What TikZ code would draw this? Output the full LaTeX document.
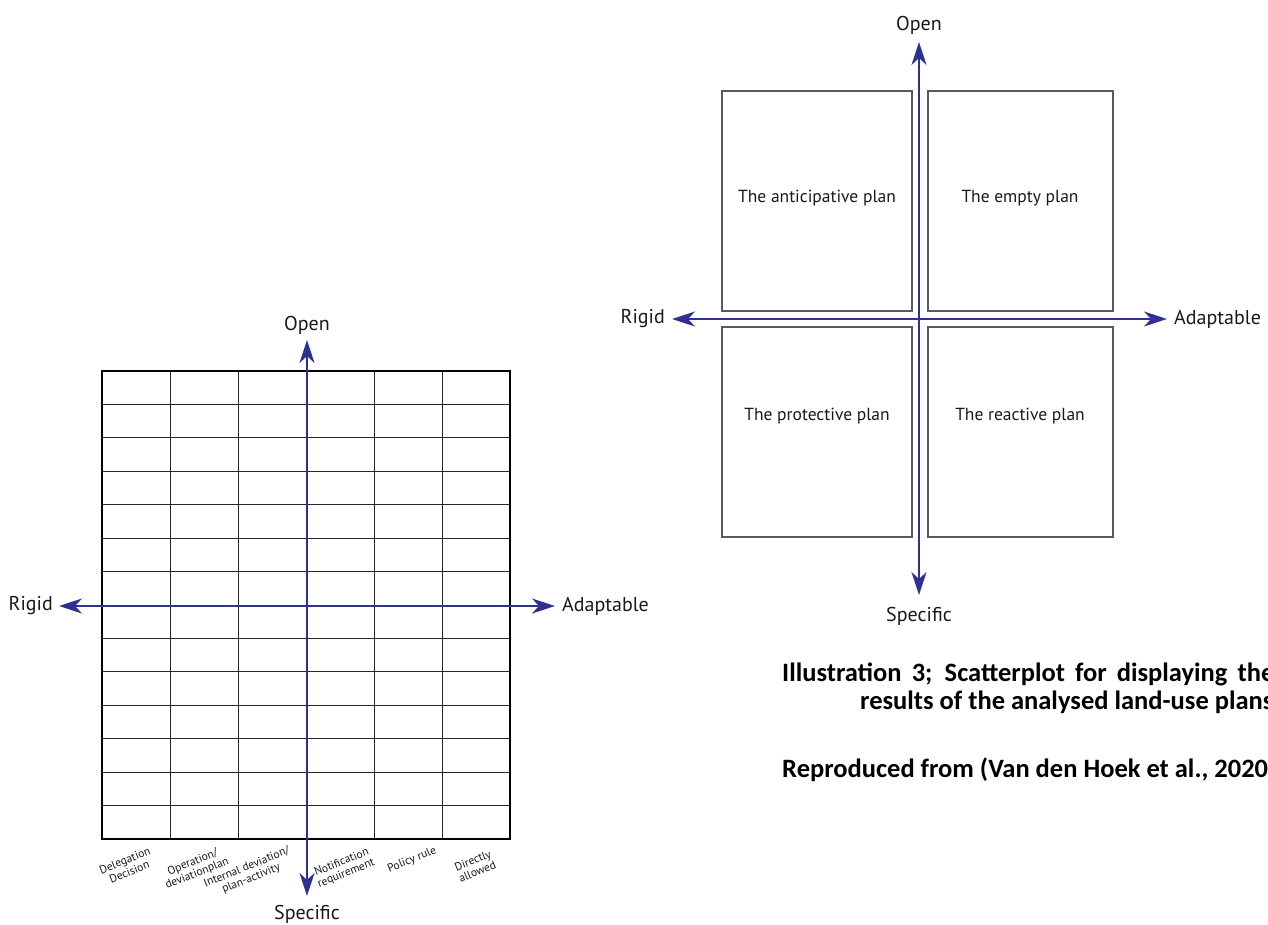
\documentclass[tikz,border=0pt]{standalone}
\usepackage{fontspec}
\setmainfont{PT Sans}
\newfontfamily\capfont{Carlito}
\usepackage{xcolor}
\usetikzlibrary{arrows.meta,positioning}
\definecolor{axisblue}{RGB}{46,49,146}
\definecolor{boxgray}{RGB}{90,90,90}

\begin{document}
\begin{tikzpicture}[
x=1pt, y=-1pt,
cell/.style={draw=black!85, line width=1pt},
frame/.style={draw=black, line width=1.8pt},
axis/.style={draw=axisblue, line width=2.2pt, {Stealth[length=23pt,width=15pt,inset=7pt]}-{Stealth[length=23pt,width=15pt,inset=7pt]}},
axislabel/.style={font=\fontsize{20}{24}\selectfont, text=black!90, inner sep=0pt},
planbox/.style={draw=boxgray, line width=1.3pt, inner sep=0pt},
plantext/.style={font=\fontsize{17.5}{21}\selectfont, text=black!90, inner sep=0pt},
collabel/.style={font=\fontsize{11.5}{12}\selectfont, align=center, rotate=22, inner sep=0pt, text=black!90},
caption/.style={font=\capfont\bfseries\fontsize{26.5}{31}\selectfont, anchor=base west, inner sep=0pt}
]
\useasboundingbox (0,0) rectangle (1268,924);

% left: grid of plan elements
\foreach \c in {0,...,6}
  \draw[cell] ({102+68*\c},371) -- ({102+68*\c},839);
\foreach \r in {0,...,14}
  \draw[cell] (102,{371+468/14*\r}) -- (510,{371+468/14*\r});
\draw[frame] (102,371) rectangle (510,839);

\coordinate (gridleft) at (59,606);
\coordinate (gridright) at (555,606);
\coordinate (gridup) at (307,340);
\coordinate (griddown) at (307,896);
\draw[axis] (gridleft) -- (gridright);
\draw[axis] (gridup) -- (griddown);

\node[axislabel, left=6pt of gridleft] (rigidL) {Rigid};
\node[axislabel, right=7pt of gridright] (adaptL) {Adaptable};
\node[axislabel, above=5pt of gridup] (openL) {Open};
\node[axislabel, below=9pt of griddown] (specificL) {Specific};

\node[collabel] (delegation) at (127,866) {Delegation\\Decision};
\node[collabel] (operation) at (195,868) {Operation/\\deviationplan};
\node[collabel] (internal) at (249,873) {Internal deviation/\\plan-activity};
\node[collabel] (notification) at (344,868) {Notification\\requirement};
\node[collabel] (policy) at (412,860) {Policy rule};
\node[collabel] (directly) at (475,866) {Directly\\allowed};

% right: four plan types
\node[planbox, minimum width=190pt, minimum height=220pt] (anticipbox) at (817,201) {};
\node[planbox, minimum width=185pt, minimum height=220pt] (emptybox) at (1020.5,201) {};
\node[planbox, minimum width=190pt, minimum height=210pt] (protectbox) at (817,432) {};
\node[planbox, minimum width=185pt, minimum height=210pt] (reactbox) at (1020.5,432) {};
\node[plantext] (anticip) at (817,198) {The anticipative plan};
\node[plantext] (empty) at (1020,198) {The empty plan};
\node[plantext] (protect) at (817,416) {The protective plan};
\node[plantext] (react) at (1020,416) {The reactive plan};

\coordinate (planleft) at (672,319);
\coordinate (planright) at (1167,319);
\coordinate (planup) at (919,42);
\coordinate (plandown) at (919,595);
\draw[axis] (planleft) -- (planright);
\draw[axis] (planup) -- (plandown);

\node[axislabel, left=7pt of planleft] (rigidR) {Rigid};
\node[axislabel, right=7pt of planright] (adaptR) {Adaptable};
\node[axislabel, above=7pt of planup] (openR) {Open};
\node[axislabel, below=12pt of plandown] (specificR) {Specific};

% caption
\node[caption] (capline1) at (782,681) {\makebox[492pt][s]{Illustration 3; Scatterplot for displaying the}};
\node[caption] (capline2) at (860,709) {results of the analysed land-use plans};
\node[caption] (capref) at (782,777) {Reproduced from (Van den Hoek et al., 2020)};
\end{tikzpicture}
\end{document}
